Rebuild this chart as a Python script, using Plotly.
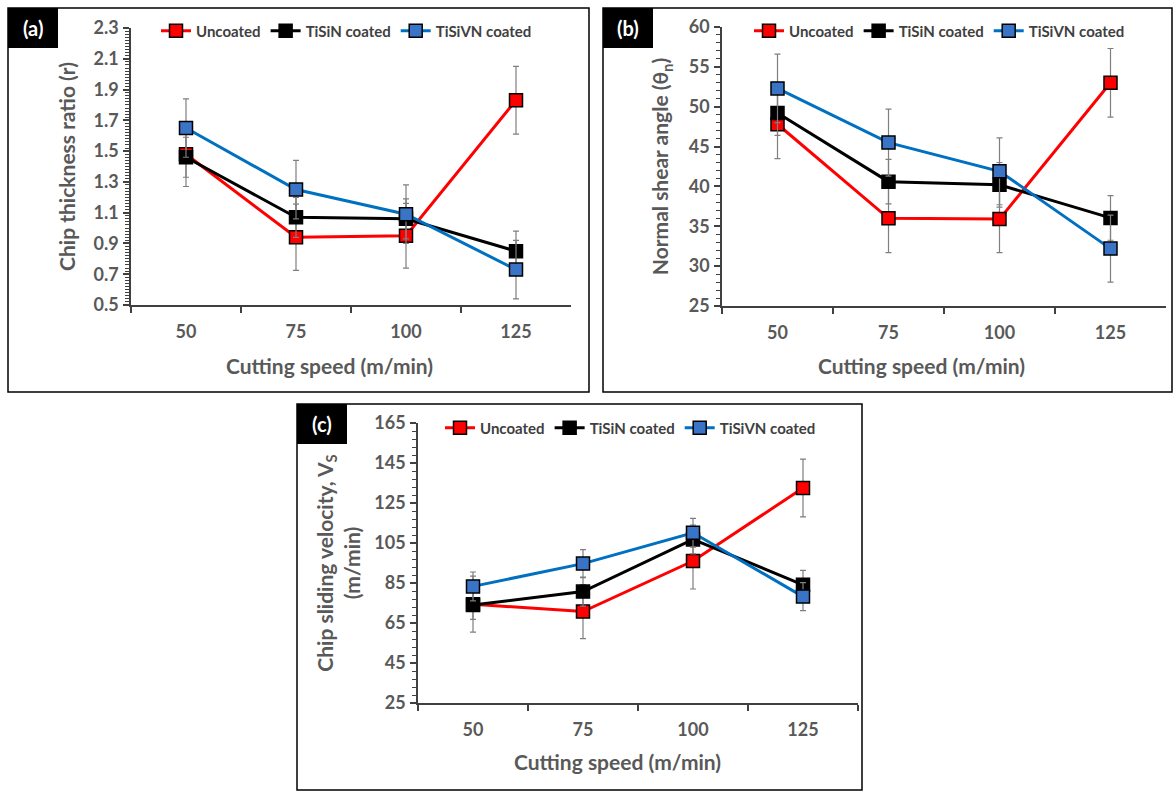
import plotly.graph_objects as go

W, H = 1174, 791

speeds = ["50", "75", "100", "125"]
series_names = ["Uncoated", "TiSiN coated", "TiSiVN coated"]
x_title = "Cutting speed (m/min)"

# (a) Chip thickness ratio
a_uncoated = [1.48, 0.94, 0.95, 1.83]
a_tisin = [1.46, 1.07, 1.06, 0.85]
a_tisivn = [1.65, 1.25, 1.09, 0.73]
a_err_uncoated = [0.21, 0.215, 0.21, 0.22]
a_err_tisin = [0.13, 0.13, 0.13, 0.13]
a_err_tisivn = [0.19, 0.19, 0.19, 0.19]

# (b) Normal shear angle
b_uncoated = [47.8, 36.0, 35.9, 53.0]
b_tisin = [49.2, 40.6, 40.2, 36.05]
b_tisivn = [52.3, 45.5, 41.9, 32.2]
b_err_uncoated = [4.3, 4.3, 4.2, 4.3]
b_err_tisin = [2.8, 2.8, 2.8, 2.8]
b_err_tisivn = [4.3, 4.2, 4.2, 4.2]

# (c) Chip sliding velocity
c_uncoated = [74.4, 70.7, 96.0, 132.5]
c_tisin = [74.0, 80.7, 106.8, 84.1]
c_tisivn = [83.3, 94.7, 110.1, 78.2]
c_err_uncoated = [14.0, 13.5, 14.0, 14.4]
c_err_tisin = [7.2, 7.3, 7.2, 7.2]
c_err_tisivn = [7.2, 7.0, 7.2, 7.0]

line_colors = ["#FF0000", "#000000", "#0070C0"]
marker_colors = ["#FF0000", "#000000", "#3A74C6"]

FONT = "Lato"
TXT = "#595959"
AX = "#404040"

fig = go.Figure()

panels = [
    ("", "", "legend", [a_uncoated, a_tisin, a_tisivn], [a_err_uncoated, a_err_tisin, a_err_tisivn]),
    ("2", "2", "legend2", [b_uncoated, b_tisin, b_tisivn], [b_err_uncoated, b_err_tisin, b_err_tisivn]),
    ("3", "3", "legend3", [c_uncoated, c_tisin, c_tisivn], [c_err_uncoated, c_err_tisin, c_err_tisivn]),
]

for xs, ys, leg, vals, errs in panels:
    for i in range(3):
        fig.add_trace(go.Scatter(
            x=speeds, y=vals[i], name=series_names[i],
            mode="lines+markers",
            line=dict(color=line_colors[i], width=3),
            marker=dict(symbol="square", size=13, color=marker_colors[i],
                        line=dict(color="#000000", width=1.5)),
            error_y=dict(type="data", array=errs[i], visible=True,
                         color="#7F7F7F", thickness=1.2, width=3),
            xaxis="x" + xs, yaxis="y" + ys, legend=leg, showlegend=True,
        ))

def px_x(p):
    return p / W

def px_y(p):
    return 1 - p / H

def xaxis(d0, d1, anchor):
    return dict(
        domain=[px_x(d0), px_x(d1)], anchor=anchor, type="category",
        range=[-0.5, 3.5], tickson="boundaries", ticks="outside", ticklen=6,
        tickwidth=1.5, tickcolor=AX, showline=True, linecolor=AX, linewidth=1.5,
        showgrid=False, zeroline=False,
        tickfont=dict(family=FONT, size=18, color=TXT, weight="bold"),
        ticklabelstandoff=10,
    )

def yaxis(d0, d1, anchor, rng, dtick, minor, title, standoff):
    return dict(
        domain=[px_y(d1), px_y(d0)], anchor=anchor, range=rng,
        tick0=rng[0], dtick=dtick, ticks="outside", ticklen=6, tickwidth=1.5,
        tickcolor=AX, showline=True, linecolor=AX, linewidth=1.5,
        showgrid=False, zeroline=False,
        minor=dict(dtick=minor, tick0=rng[0], ticks="outside", ticklen=4,
                   tickwidth=1, tickcolor=AX, showgrid=False),
        tickfont=dict(family=FONT, size=18, color=TXT, weight="bold"),
        ticklabelstandoff=1,
        title=dict(text=title, standoff=standoff,
                   font=dict(family=FONT, size=21, color=TXT, weight="bold")),
    )

fig.update_layout(
    width=W, height=H, margin=dict(l=0, r=0, t=0, b=0, autoexpand=False),
    paper_bgcolor="white", plot_bgcolor="white",
    xaxis=xaxis(131, 571, "y"),
    yaxis=yaxis(28, 305, "x", [0.5, 2.3], 0.2, 0.02, "Chip thickness ratio (r)", 12),
    xaxis2=xaxis(722, 1166, "y2"),
    yaxis2=yaxis(27, 306, "x2", [25, 60], 5, 1, "Normal shear angle (θ<sub>n</sub>)", 14),
    xaxis3=xaxis(418, 858, "y3"),
    yaxis3=yaxis(423, 703, "x3", [25, 165], 20, 4,
                 "Chip sliding velocity, V<sub>S</sub><br>(m/min)", 8),
)

# x-axis titles (centred on each chart area, as in the source figure)
for cx, cy in [(329, 366), (921, 366), (617, 761)]:
    fig.add_annotation(text=x_title, xref="paper", yref="paper",
                       x=px_x(cx), y=px_y(cy), showarrow=False,
                       xanchor="center", yanchor="middle",
                       font=dict(family=FONT, size=21, color=TXT, weight="bold"))

leg_common = dict(orientation="h", xanchor="left", yanchor="middle",
                  xref="container", yref="container",
                  bgcolor="rgba(0,0,0,0)", tracegroupgap=0,
                  font=dict(family=FONT, size=15, color="#404040", weight="bold"))
fig.update_layout(
    legend=dict(x=px_x(156), y=px_y(31), **leg_common),
    legend2=dict(x=px_x(749), y=px_y(31), **leg_common),
    legend3=dict(x=px_x(440), y=px_y(428), **leg_common),
)

# panel frames and labels
frames = [(8, 8, 589, 392, "(a)"), (603, 8, 1172, 392, "(b)"), (297, 404, 862, 790, "(c)")]
for x0, y0, x1, y1, lab in frames:
    fig.add_shape(type="rect", xref="paper", yref="paper",
                  x0=px_x(x0), x1=px_x(x1), y0=px_y(y1), y1=px_y(y0),
                  line=dict(color="#000000", width=1.5), fillcolor="rgba(0,0,0,0)")
    fig.add_shape(type="rect", xref="paper", yref="paper",
                  x0=px_x(x0), x1=px_x(x0 + 50), y0=px_y(y0 + 40), y1=px_y(y0),
                  line=dict(width=0), fillcolor="#000000")
    fig.add_annotation(text=lab, xref="paper", yref="paper",
                       x=px_x(x0 + 25), y=px_y(y0 + 20), showarrow=False,
                       xanchor="center", yanchor="middle",
                       font=dict(family=FONT, size=20, color="white", weight="bold"))

fig.write_html("out.html")
